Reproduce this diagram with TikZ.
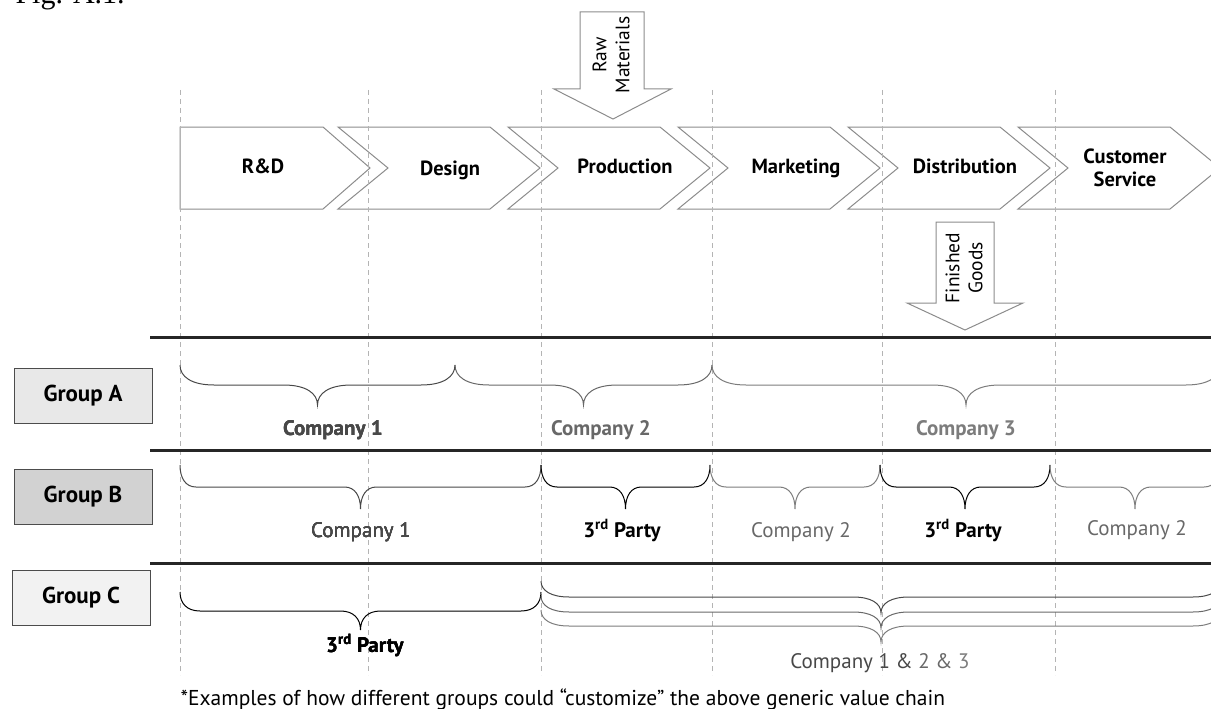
\documentclass[tikz,border=0pt]{standalone}
\usepackage{fontspec}
\setmainfont{PT Sans}
\newfontfamily\figfont{Liberation Serif}

\definecolor{chevgray}{HTML}{8C8C8C}
\definecolor{guidegray}{HTML}{B4B4B4}
\definecolor{cone}{HTML}{484848}
\definecolor{ctwo}{HTML}{686868}
\definecolor{cthree}{HTML}{7C7C7C}
\definecolor{fillA}{HTML}{E8E8E8}
\definecolor{fillB}{HTML}{D2D2D2}
\definecolor{fillC}{HTML}{F2F2F2}

\newcommand{\valbrace}[6]{%
  \draw[partbrace, #1] (#2,#4)
    .. controls (#2,{#4+0.6*#5}) and ({#2+0.35*#6},{#4+#5}) .. ({#2+#6},{#4+#5})
    -- ({(#2+#3)/2-#6},{#4+#5})
    .. controls ({(#2+#3)/2-0.35*#6},{#4+#5}) and ({(#2+#3)/2},{#4+1.4*#5}) .. ({(#2+#3)/2},{#4+2*#5})
    .. controls ({(#2+#3)/2},{#4+1.4*#5}) and ({(#2+#3)/2+0.35*#6},{#4+#5}) .. ({(#2+#3)/2+#6},{#4+#5})
    -- ({#3-#6},{#4+#5})
    .. controls ({#3-0.35*#6},{#4+#5}) and (#3,{#4+0.6*#5}) .. (#3,#4);
}

\begin{document}
\begin{tikzpicture}[x=1pt, y=-1pt,
  stage/.style = {draw=chevgray, line width=1pt},
  stagename/.style = {font=\fontsize{20.5}{23}\selectfont\bfseries, align=center},
  guide/.style = {draw=guidegray, line width=0.8pt, dash pattern=on 5pt off 4pt},
  rowline/.style = {draw=black!85, line width=3pt},
  groupbox/.style = {draw=black!70, line width=1pt, minimum width=138pt, minimum height=55pt,
                     font=\fontsize{23}{25}\selectfont\bfseries},
  part/.style = {anchor=base, font=\fontsize{21}{23}\selectfont},
  partbrace/.style = {line width=1pt},
  flow/.style = {draw=chevgray, line width=1pt, fill=white},
  flowtext/.style = {font=\fontsize{19.5}{23}\selectfont, rotate=90, align=center}
  ]
  \useasboundingbox (0,0) rectangle (1211,709);
  \clip (0,0) rectangle (1211,709);

  \node[anchor=base west, font=\figfont\fontsize{30}{32}\selectfont] (fig) at (12,4) {Fig. A.1.};

  \draw[stage] (180,127) -- (323,127) -- (370,168) -- (323,209) -- (180,209) -- cycle;
  \foreach \x in {338,508,678,848,1018}
    \draw[stage] (\x,127) -- ({\x+152},127) -- ({\x+202},168) -- ({\x+152},209)
      -- (\x,209) -- ({\x+50},168) -- cycle;

  \foreach \x in {180,368,541,712,882,1055}
    \draw[guide] (\x,90) -- (\x,675);

  \node[stagename, anchor=base] (rd) at (263,173) {R\&D};
  \node[stagename, anchor=base] (design) at (450,175) {Design};
  \node[stagename, anchor=base] (production) at (625,173) {Production};
  \node[stagename, anchor=base] (marketing) at (796,173) {Marketing};
  \node[stagename, anchor=base] (distribution) at (965,173) {Distribution};
  \node[stagename] (service) at (1125,168) {Customer\\Service};

  \draw[flow] (580,12) -- (644,12) -- (644,89) -- (671,89) -- (613,119)
    -- (554,89) -- (580,89) -- cycle;
  \node[flowtext] (raw) at (611,55) {Raw\\Materials};
  \draw[flow] (936,222) -- (994,222) -- (994,303) -- (1023,303) -- (965,330)
    -- (907,303) -- (936,303) -- cycle;
  \node[flowtext] (goods) at (964,268) {Finished\\Goods};

  \coordinate (rowA) at (150,337);
  \coordinate (rowB) at (150,450);
  \coordinate (rowC) at (150,563);
  \foreach \r in {rowA,rowB,rowC}
    \draw[rowline] (\r) -- ++(1070,0);

  \node[groupbox, fill=fillA] (groupA) at (83,396) {Group A};
  \node[groupbox, fill=fillB] (groupB) at (83,497) {Group B};
  \node[groupbox, fill=fillC] (groupC) at (81,598) {Group C};

  \foreach \xa/\xb/\col in {180/455/cone, 455/712/ctwo, 712/1220/cthree}
    \valbrace{draw=\col}{\xa}{\xb}{365}{20}{34}
  \node[part, font=\fontsize{21}{23}\selectfont\bfseries, text=cone] (a1) at (333,435) {Company 1};
  \node[part, font=\fontsize{21}{23}\selectfont\bfseries, text=ctwo] (a2) at (601,435) {Company 2};
  \node[part, font=\fontsize{21}{23}\selectfont\bfseries, text=cthree] (a3) at (966,435) {Company 3};

  \foreach \xa/\xb/\col in {180/541/cone, 541/710/black, 710/880/cthree, 880/1050/black, 1050/1220/cthree}
    \valbrace{draw=\col}{\xa}{\xb}{465}{22}{16}
  \node[part, text=cone] (b1) at (361,537) {Company 1};
  \node[part, font=\fontsize{21}{23}\selectfont\bfseries] (b2) at (622,537) {3\textsuperscript{rd} Party};
  \node[part, text=ctwo] (b3) at (801,537) {Company 2};
  \node[part, font=\fontsize{21}{23}\selectfont\bfseries] (b4) at (963,537) {3\textsuperscript{rd} Party};
  \node[part, text=ctwo] (b5) at (1137,535) {Company 2};

  \valbrace{draw=black}{180}{541}{592}{19}{20}
  \foreach \yt/\col in {581/cone, 596/ctwo, 610/cthree}
    \valbrace{draw=\col}{541}{1221}{\yt}{16}{28}
  \node[part, font=\fontsize{21}{23}\selectfont\bfseries] (c1) at (365,652) {3\textsuperscript{rd} Party};
  \node[part] (c2) at (880,668) {{\color{cone}Company 1 \&} {\color{ctwo}2 \&} {\color{cthree}3}};

  \node[anchor=base west, font=\fontsize{21.5}{23}\selectfont] (note) at (177,705)
    {*Examples of how different groups could “customize” the above generic value chain};
\end{tikzpicture}
\end{document}
